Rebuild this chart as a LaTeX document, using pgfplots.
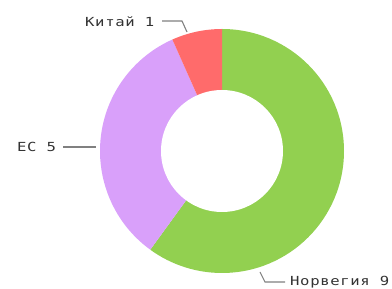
\documentclass[border=0pt]{standalone}
\usepackage{pgfplots}
\usepackage{pgfplotstable}
\pgfplotsset{compat=1.18}
\usepackage{fontspec}
\newfontfamily\mono{DejaVu Sans Mono}[FakeStretch=1.25, LetterSpace=5]
\definecolor{cN}{RGB}{146,208,80}
\definecolor{cE}{RGB}{217,160,250}
\definecolor{cC}{RGB}{255,107,107}
\definecolor{lead}{RGB}{128,128,128}
\pgfplotstableread{
idx value
0 9
1 5
2 1
}\pietable
\begin{document}
\begin{tikzpicture}
\pgfplotstablegetelem{0}{value}\of\pietable \let\vN\pgfplotsretval
\pgfplotstablegetelem{1}{value}\of\pietable \let\vE\pgfplotsretval
\pgfplotstablegetelem{2}{value}\of\pietable \let\vC\pgfplotsretval
\pgfmathsetmacro{\tot}{\vN+\vE+\vC}
\pgfmathsetmacro{\aA}{90}
\pgfmathsetmacro{\aB}{90-360*\vN/\tot}
\pgfmathsetmacro{\aC}{\aB-360*\vE/\tot}
\pgfmathsetmacro{\aD}{\aC-360*\vC/\tot}
\begin{axis}[
  scale only axis, width=392pt, height=289pt,
  xmin=0, xmax=392, ymin=0, ymax=289,
  hide axis, clip=false,
]
\path (axis cs:0,0) rectangle (axis cs:392,289);
\fill[cN] (axis cs:222,138) -- ++(\aA:122pt) arc[start angle=\aA, end angle=\aB, radius=122pt] -- cycle;
\fill[cE] (axis cs:222,138) -- ++(\aB:122pt) arc[start angle=\aB, end angle=\aC, radius=122pt] -- cycle;
\fill[cC] (axis cs:222,138) -- ++(\aC:122pt) arc[start angle=\aC, end angle=\aD, radius=122pt] -- cycle;
\fill[white] (axis cs:222,138) circle[radius=61pt];
\draw[lead, line width=1.1pt] (axis cs:162,268) -- (axis cs:182,268) -- (axis cs:187,257);
\draw[lead, line width=1.1pt] (axis cs:63,142) -- (axis cs:96,142);
\draw[lead, line width=1.1pt] (axis cs:260,17) -- (axis cs:265,7) -- (axis cs:285,7);
\node[anchor=west, inner sep=0pt, text=black!80, font=\mono\fontsize{12.5}{15}\selectfont] at (axis cs:85,267) {Китай 1};
\node[anchor=west, inner sep=0pt, text=black!80, font=\mono\fontsize{12.5}{15}\selectfont] at (axis cs:17,142) {ЕС 5};
\node[anchor=west, inner sep=0pt, text=black!80, font=\mono\fontsize{12.5}{15}\selectfont] at (axis cs:290,7) {Норвегия 9};
\end{axis}
\end{tikzpicture}
\end{document}
